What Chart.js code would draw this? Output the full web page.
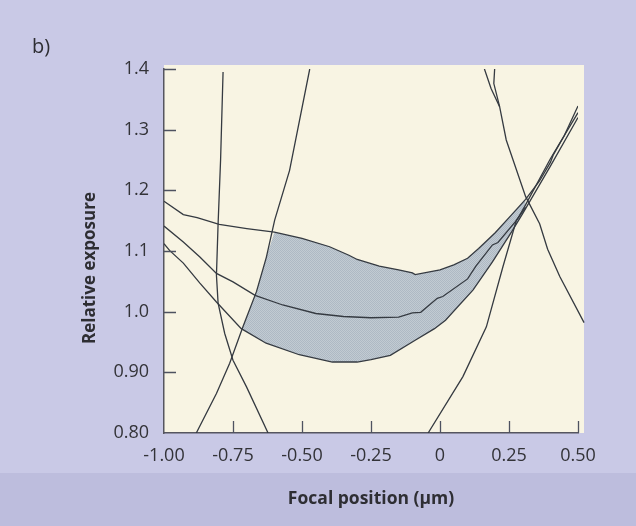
<!DOCTYPE html>
<html>
<head>
<meta charset="utf-8">
<title>Relative exposure vs focal position</title>
<script src="https://cdn.jsdelivr.net/npm/chart.js@4.4.1/dist/chart.umd.min.js"></script>
<style>
  html, body { margin: 0; padding: 0; background: #c9c9e5; }
  #wrap { width: 636px; height: 526px; }
</style>
</head>
<body>
<div id="wrap"><canvas id="chart" width="636" height="526"></canvas></div>
<script>
// ─── ticks ────────────────────────────────────────────────────────────────
const xTickValues = [-1.00, -0.75, -0.50, -0.25, 0, 0.25, 0.50];
const xTickLabels = ['-1.00', '-0.75', '-0.50', '-0.25', '0', '0.25', '0.50'];
const yTickValues = [0.80, 0.90, 1.0, 1.1, 1.2, 1.3, 1.4];
const yTickLabels = ['0.80', '0.90', '1.0', '1.1', '1.2', '1.3', '1.4'];

// ─── exposure curves  [focus, relative exposure] ──────────────────────────
const upperCurve = [
  [-1.00, 1.182], [-0.93, 1.160], [-0.88, 1.155], [-0.80, 1.144], [-0.70, 1.137],
  [-0.60, 1.131], [-0.50, 1.121], [-0.40, 1.107], [-0.33, 1.093], [-0.30, 1.086],
  [-0.22, 1.075], [-0.15, 1.069], [-0.10, 1.064], [-0.09, 1.061], [0.00, 1.069],
  [0.05, 1.077], [0.10, 1.088], [0.14, 1.104], [0.20, 1.130], [0.26, 1.160],
  [0.31, 1.185], [0.36, 1.215], [0.40, 1.246], [0.41, 1.258], [0.45, 1.290], [0.50, 1.339]
];
const middleCurve = [
  [-1.00, 1.141], [-0.93, 1.115], [-0.87, 1.090], [-0.81, 1.063], [-0.75, 1.049],
  [-0.67, 1.027], [-0.57, 1.011], [-0.45, 0.997], [-0.35, 0.992], [-0.25, 0.990],
  [-0.15, 0.991], [-0.10, 0.998], [-0.07, 0.999], [-0.01, 1.022], [0.01, 1.025],
  [0.10, 1.054], [0.13, 1.075], [0.19, 1.110], [0.21, 1.114], [0.28, 1.152],
  [0.31, 1.176], [0.40, 1.252], [0.50, 1.328]
];
const lowerCurve = [
  [-1.00, 1.112], [-0.98, 1.101], [-0.93, 1.080], [-0.87, 1.047], [-0.81, 1.016],
  [-0.72, 0.972], [-0.63, 0.948], [-0.51, 0.929], [-0.39, 0.917], [-0.30, 0.917],
  [-0.25, 0.921], [-0.18, 0.928], [-0.09, 0.953], [-0.02, 0.972], [0.02, 0.986],
  [0.12, 1.036], [0.19, 1.082], [0.26, 1.132], [0.30, 1.162], [0.40, 1.240], [0.50, 1.320]
];

// ─── steep lines ──────────────────────────────────────────────────────────
const steepLine1 = [
  [-0.786, 1.395], [-0.795, 1.250], [-0.804, 1.145], [-0.810, 1.060], [-0.804, 1.014],
  [-0.780, 0.964], [-0.750, 0.920], [-0.701, 0.876], [-0.623, 0.800]
];
const steepLine2 = [
  [-0.883, 0.800], [-0.810, 0.865], [-0.762, 0.915], [-0.714, 0.975], [-0.665, 1.033],
  [-0.629, 1.090], [-0.599, 1.151], [-0.545, 1.233], [-0.472, 1.400]
];
const steepLine3 = [
  [-0.043, 0.800], [0.083, 0.893], [0.168, 0.975], [0.228, 1.074], [0.277, 1.151], [0.31, 1.172]
];
const steepLine4 = [
  [0.161, 1.400], [0.185, 1.368], [0.216, 1.338], [0.240, 1.283], [0.310, 1.190],
  [0.361, 1.145], [0.390, 1.103], [0.434, 1.058], [0.522, 0.982]
];
const steepLine4b = [
  [0.198, 1.400], [0.195, 1.376], [0.216, 1.338]
];

const toXY = arr => arr.map(([x, y]) => ({ x, y }));

// bord superior da zona sombreada: steepLine2 até cruzar a curva superior, depois upperCurve
const shadeTop = [
  ...steepLine2.filter(([x, y]) => y >= 0.97 && y < 1.13),
  ...upperCurve.filter(([x]) => x >= -0.60 && x <= 0.31)
];

// textura pontilhada da área sombreada
function makeShadePattern() {
  const c = document.createElement('canvas');
  c.width = 2; c.height = 2;
  const g = c.getContext('2d');
  g.fillStyle = '#c2cbd2'; g.fillRect(0, 0, 2, 2);
  g.fillStyle = '#aeb9c4'; g.fillRect(0, 0, 1, 1); g.fillRect(1, 1, 1, 1);
  return g.createPattern(c, 'repeat');
}

const LINE = '#353a41';
const lineDs = (data, extra = {}) => ({
  data: toXY(data), showLine: true, borderColor: LINE, borderWidth: 1.3,
  pointRadius: 0, pointHoverRadius: 0, fill: false, tension: 0, ...extra
});

const paperPlugin = {
  id: 'paper',
  beforeDraw(chart) {
    const { ctx, chartArea: a } = chart;
    ctx.save();
    ctx.fillStyle = '#c9c9e6';
    ctx.fillRect(0, 0, chart.width, chart.height);
    ctx.fillStyle = '#bdbddd';
    ctx.fillRect(0, 473, chart.width, chart.height - 473);
    ctx.fillStyle = '#f8f4e3';
    ctx.fillRect(a.left, a.top - 4, a.right - a.left + 6, a.bottom - a.top + 4);
    ctx.restore();
  },
  afterDraw(chart) {
    const { ctx, chartArea: a, scales: { x, y } } = chart;
    ctx.save();
    // ticks internos
    ctx.strokeStyle = '#4e5260';
    ctx.lineWidth = 1.3;
    ctx.beginPath();
    yTickValues.slice(1).forEach(v => {
      const py = Math.round(y.getPixelForValue(v)) + 0.5;
      ctx.moveTo(a.left, py); ctx.lineTo(a.left + 12, py);
    });
    xTickValues.slice(1).forEach(v => {
      const px = Math.round(x.getPixelForValue(v)) + 0.5;
      ctx.moveTo(px, a.bottom); ctx.lineTo(px, a.bottom - 12);
    });
    ctx.stroke();

    // título do eixo y e rótulo do painel
    ctx.fillStyle = '#2e2e33';
    ctx.font = "bold 17px 'Open Sans', sans-serif";
    ctx.textAlign = 'center';
    ctx.textBaseline = 'middle';
    ctx.translate(90, 268);
    ctx.rotate(-Math.PI / 2);
    ctx.fillText('Relative exposure', 0, 0);
    ctx.setTransform(1, 0, 0, 1, 0, 0);
    ctx.font = "20px 'Open Sans', sans-serif";
    ctx.textAlign = 'left';
    ctx.textBaseline = 'alphabetic';
    ctx.fillText('b)', 32, 53);
    ctx.restore();
  }
};

Chart.defaults.font.family = "'Open Sans', sans-serif";
Chart.defaults.color = '#333338';

new Chart(document.getElementById('chart').getContext('2d'), {
  type: 'scatter',
  data: {
    datasets: [
      { data: toXY(shadeTop), showLine: true, borderWidth: 0, pointRadius: 0,
        backgroundColor: makeShadePattern(), fill: { target: 3 }, order: 10 },
      lineDs(upperCurve),
      lineDs(middleCurve),
      lineDs(lowerCurve),
      lineDs(steepLine1),
      lineDs(steepLine2),
      lineDs(steepLine3),
      lineDs(steepLine4, { clip: { left: 0, top: 0, right: 10, bottom: 0 } }),
      lineDs(steepLine4b)
    ]
  },
  options: {
    responsive: false,
    animation: false,
    events: [],
    layout: { padding: { top: 69, right: 58, left: 0, bottom: 0 } },
    plugins: { legend: { display: false }, tooltip: { enabled: false } },
    scales: {
      x: {
        type: 'linear', min: -1.0, max: 0.5,
        afterFit: s => { s.height = 93; },
        afterBuildTicks: s => { s.ticks = xTickValues.map(v => ({ value: v })); },
        ticks: {
          autoSkip: false, maxRotation: 0, padding: 12,
          font: { size: 18 }, color: '#333338',
          callback: (v, i) => xTickLabels[i]
        },
        grid: { display: true, drawOnChartArea: false, drawTicks: false },
        border: { display: true, color: '#55555f', width: 1.5 },
        title: {
          display: true, text: 'Focal position (μm)',
          font: { size: 17.5, weight: 'bold' }, color: '#2e2e33',
          padding: { top: 0, bottom: 16 }
        }
      },
      y: {
        type: 'linear', min: 0.8, max: 1.4,
        afterFit: s => { s.width = 164; },
        afterBuildTicks: s => { s.ticks = yTickValues.map(v => ({ value: v })); },
        ticks: {
          autoSkip: false, padding: 15,
          font: { size: 18 }, color: '#333338',
          callback: (v, i) => yTickLabels[i]
        },
        grid: { display: true, drawOnChartArea: false, drawTicks: false },
        border: { display: true, color: '#55555f', width: 1.5 }
      }
    }
  },
  plugins: [paperPlugin]
});
</script>
</body>
</html>
